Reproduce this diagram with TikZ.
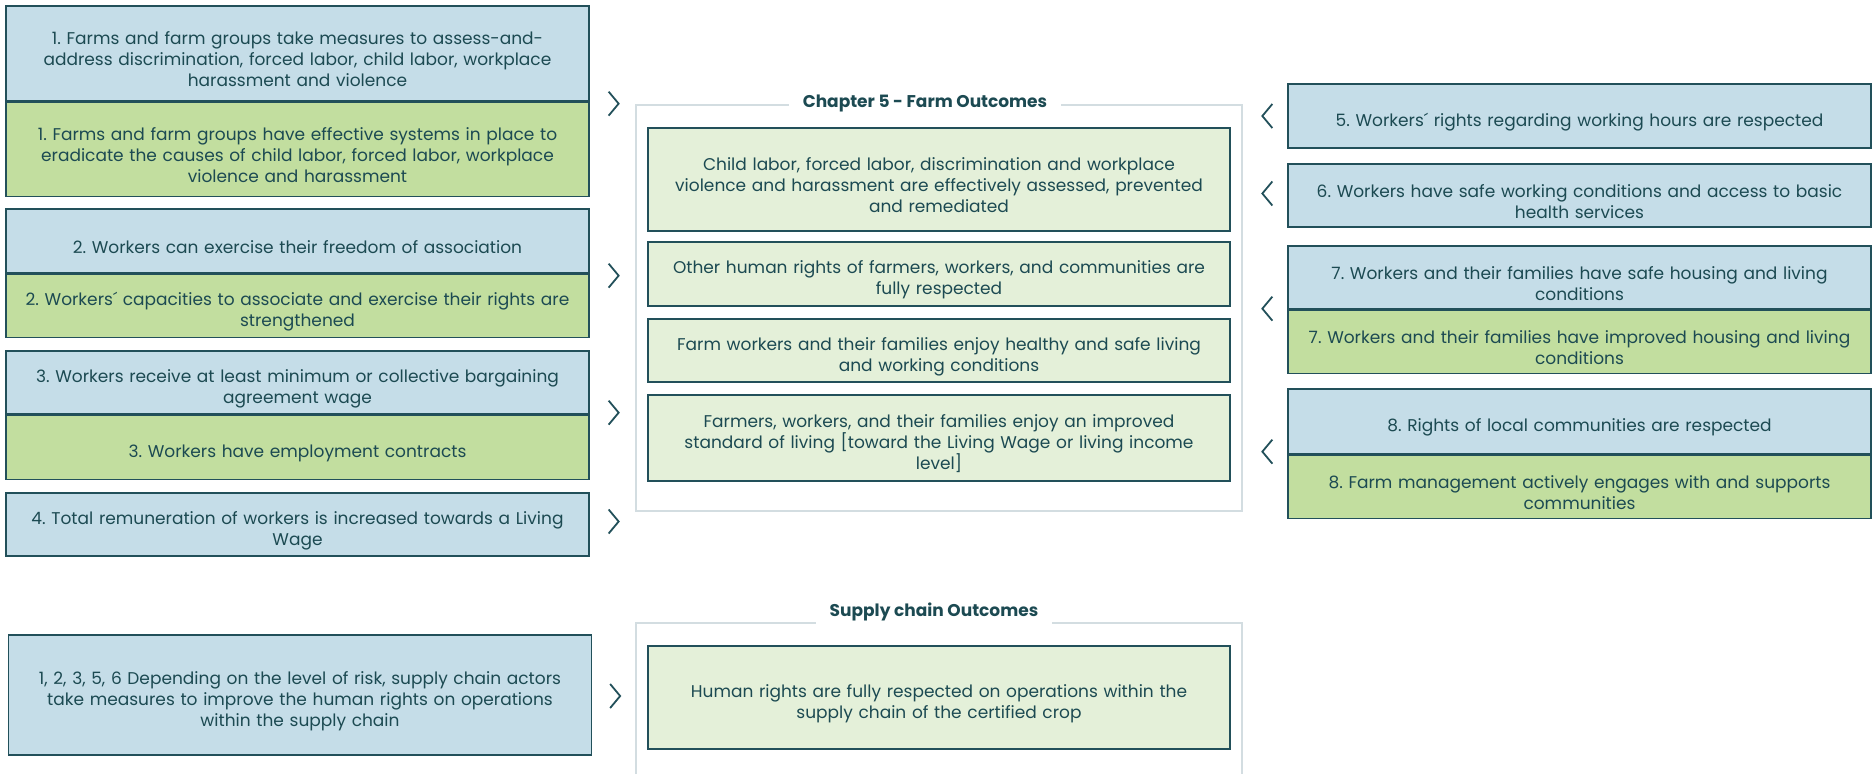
\documentclass[tikz,border=0pt]{standalone}
\usepackage{fontspec}
\setmainfont{Poppins}
\usetikzlibrary{positioning}
\usetikzlibrary{calc}

\definecolor{outblue}{HTML}{C5DDE8}
\definecolor{outgreen}{HTML}{C2DE9F}
\definecolor{outpale}{HTML}{E4F0D9}
\definecolor{tealline}{HTML}{22505A}
\definecolor{tealtext}{HTML}{1C4A52}
\definecolor{framegray}{HTML}{D3DDE1}

\begin{document}
\begin{tikzpicture}[x=1pt, y=-1pt,
  every node/.style={font=\fontsize{17}{21}\selectfont\frenchspacing, text=tealtext},
  outbox/.style={draw=tealline, line width=1.3pt, minimum width=583pt, text width=575pt, align=center,
    inner xsep=4pt, inner ysep=0pt, execute at begin node={\rule{0pt}{25pt}}},
  bluebox/.style={outbox, fill=outblue},
  greenbox/.style={outbox, fill=outgreen},
  palebox/.style={outbox, fill=outpale, minimum width=582pt, text width=574pt},
  frameline/.style={draw=framegray, line width=1.2pt},
  frametitle/.style={fill=white, font=\bfseries\fontsize{17}{21}\selectfont, inner xsep=14pt},
  chevline/.style={draw=tealline, line width=1.8pt},
  chevr/.pic={\draw[chevline] (-5,-12) -- (5,0) -- (-5,12);},
  chevl/.pic={\draw[chevline] (5,-12) -- (-5,0) -- (5,12);}
]
    \useasboundingbox (0,0) rectangle (1872,774);

    % Left column
    \node[bluebox, minimum height=95pt] (o1a) at (297.5,53.5) {1. Farms and farm groups take measures to assess-and-\\address discrimination, forced labor, child labor, workplace\\harassment and violence};
    \node[greenbox, minimum height=94pt, below=0pt of o1a] (o1b) {1. Farms and farm groups have effective systems in place to\\eradicate the causes of child labor, forced labor, workplace\\violence and harassment};
    \node[bluebox, minimum height=64pt] (o2a) at (297.5,241) {2. Workers can exercise their freedom of association};
    \node[greenbox, minimum height=63pt, below=0pt of o2a] (o2b) {2. Workers´ capacities to associate and exercise their rights are\\strengthened};
    \node[bluebox, minimum height=63pt] (o3a) at (297.5,382.5) {3. Workers receive at least minimum or collective bargaining\\agreement wage};
    \node[greenbox, minimum height=64pt, below=0pt of o3a] (o3b) {3. Workers have employment contracts};
    \node[bluebox, minimum height=63pt] (o4) at (297.5,524.5) {4. Total remuneration of workers is increased towards a Living\\Wage};

    % Farm outcomes
    \draw[frameline] (636,105) rectangle (1242,511);
    \node[frametitle] (farm) at (925,103) {Chapter 5 - Farm Outcomes};
    \node[palebox, minimum height=103pt] (fa) at (939,179.5) {Child labor, forced labor, discrimination and workplace\\violence and harassment are effectively assessed, prevented\\and remediated};
    \node[palebox, minimum height=64pt] (fb) at (939,274) {Other human rights of farmers, workers, and communities are\\fully respected};
    \node[palebox, minimum height=63pt] (fc) at (939,350.5) {Farm workers and their families enjoy healthy and safe living\\and working conditions};
    \node[palebox, minimum height=86pt] (fd) at (939,438) {Farmers, workers, and their families enjoy an improved\\standard of living [toward the Living Wage or living income\\level]};

    % Right column
    \node[bluebox, minimum height=64pt] (o5) at (1579.5,116) {5. Workers´ rights regarding working hours are respected};
    \node[bluebox, minimum height=63pt] (o6) at (1579.5,195.5) {6. Workers have safe working conditions and access to basic\\health services};
    \node[bluebox, minimum height=63pt] (o7a) at (1579.5,277.5) {7. Workers and their families have safe housing and living\\conditions};
    \node[greenbox, minimum height=63pt, below=0pt of o7a] (o7b) {7. Workers and their families have improved housing and living\\conditions};
    \node[bluebox, minimum height=65pt] (o8a) at (1579.5,421.5) {8. Rights of local communities are respected};
    \node[greenbox, minimum height=63pt, below=0pt of o8a] (o8b) {8. Farm management actively engages with and supports\\communities};

    % Supply chain
    \node[bluebox, minimum height=120pt] (sc) at (300,695) {1, 2, 3, 5, 6 Depending on the level of risk, supply chain actors\\take measures to improve the human rights on operations\\within the supply chain};
    \draw[frameline] (636,774) -- (636,623) -- (1242,623) -- (1242,774);
    \node[frametitle] (supply) at (934,612) {Supply chain Outcomes};
    \node[palebox, minimum height=103pt] (sa) at (939,697.5) {Human rights are fully respected on operations within the\\supply chain of the certified crop};

    % Chevrons
    \pic at ($(o1a.south east)+(24,2)$) {chevr};
    \pic at ($(o2a.south east)+(24,2)$) {chevr};
    \pic at ($(o3a.south east)+(24,-2)$) {chevr};
    \pic at ($(o4.east)+(24,-3)$) {chevr};
    \pic at ($(sc.east)+(23,1)$) {chevr};
    \pic at ($(o5.west)+(-20,0)$) {chevl};
    \pic at ($(o6.west)+(-20,-2)$) {chevl};
    \pic at ($(o7a.south west)+(-20,-1)$) {chevl};
    \pic at ($(o8a.south west)+(-20,-3)$) {chevl};
\end{tikzpicture}
\end{document}
